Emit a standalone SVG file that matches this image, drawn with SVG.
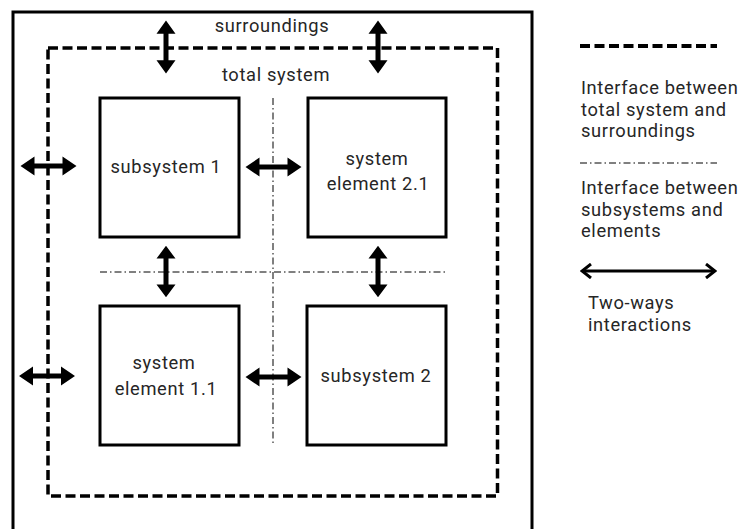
<svg xmlns="http://www.w3.org/2000/svg" xmlns:xlink="http://www.w3.org/1999/xlink" width="747" height="529" viewBox="0 0 747 529">
  <style>
    .lbl { font-family: Roboto, "Open Sans", "Liberation Sans", sans-serif; font-size: 18.3px; letter-spacing: 0.65px; fill: #262626; }
    .mid { text-anchor: middle; }
    .box { fill: #fff; stroke: #000; stroke-width: 3; }
    .outer { fill: none; stroke: #000; stroke-width: 3; }
    .dash { fill: none; stroke: #000; stroke-width: 3.5; stroke-dasharray: 10 4.5; }
    .dashdot { fill: none; stroke: #000; stroke-width: 1; stroke-dasharray: 7 3 1.5 3; }
    .arr { fill: #000; }
  </style>
  <defs>
    <!-- fat double-headed arrow, 56 long, centred on the origin, pointing along x -->
    <polygon id="dbl" points="-28,0 -14,-9.5 -14,-2.5 14,-2.5 14,-9.5 28,0 14,9.5 14,2.5 -14,2.5 -14,9.5"/>
    <marker id="chev" viewBox="0 0 12 16" refX="10" refY="8" markerWidth="12" markerHeight="16" markerUnits="userSpaceOnUse" orient="auto-start-reverse">
      <path d="M1,1 L10,8 L1,15" fill="none" stroke="#000" stroke-width="3"/>
    </marker>
  </defs>

  <rect width="747" height="529" fill="#fff"/>

  <!-- surroundings boundary (open at the bottom) -->
  <g id="surroundings">
    <path class="outer" d="M13,540 V12 H532 V540"/>
    <text class="lbl mid" x="272" y="32">surroundings</text>
  </g>

  <!-- total system boundary -->
  <g id="total-system">
    <rect class="dash" x="48" y="48" width="449.5" height="448"/>
    <text class="lbl mid" x="276" y="81">total system</text>
  </g>

  <!-- internal interfaces -->
  <g id="internal-interfaces">
    <line class="dashdot" x1="100" y1="272" x2="445" y2="272"/>
    <line class="dashdot" x1="273" y1="98" x2="273" y2="443"/>
  </g>

  <g id="subsystem-1">
    <rect class="box" x="100" y="98" width="139" height="139"/>
    <text class="lbl mid" x="166" y="173">subsystem 1</text>
  </g>
  <g id="system-element-2-1">
    <rect class="box" x="308" y="98" width="138" height="139"/>
    <text class="lbl mid"><tspan x="377" y="165">system</tspan><tspan x="378" y="190">element 2.1</tspan></text>
  </g>
  <g id="system-element-1-1">
    <rect class="box" x="100" y="306" width="139" height="139"/>
    <text class="lbl mid"><tspan x="164" y="369">system</tspan><tspan x="166" y="395">element 1.1</tspan></text>
  </g>
  <g id="subsystem-2">
    <rect class="box" x="307" y="306" width="139" height="139"/>
    <text class="lbl mid" x="376" y="382">subsystem 2</text>
  </g>

  <!-- two-way interactions -->
  <g id="connectors" class="arr">
    <use xlink:href="#dbl" transform="translate(166,47) rotate(90) scale(0.95,1)"/>
    <use xlink:href="#dbl" transform="translate(378,47) rotate(90) scale(0.95,1)"/>
    <use xlink:href="#dbl" transform="translate(48.5,166)"/>
    <use xlink:href="#dbl" transform="translate(47,376)"/>
    <use xlink:href="#dbl" transform="translate(166,271.5) rotate(90) scale(0.92,1)"/>
    <use xlink:href="#dbl" transform="translate(378,271.5) rotate(90) scale(0.92,1)"/>
    <use xlink:href="#dbl" transform="translate(273.5,167)"/>
    <use xlink:href="#dbl" transform="translate(273.5,377)"/>
  </g>

  <!-- legend -->
  <g id="legend">
    <line x1="580" y1="46" x2="717" y2="46" stroke="#000" stroke-width="4" stroke-dasharray="10 4.5"/>
    <text class="lbl"><tspan x="581" y="94">Interface between</tspan><tspan x="581" y="115.5">total system and</tspan><tspan x="581" y="137">surroundings</tspan></text>
    <line class="dashdot" x1="580" y1="163" x2="717" y2="163"/>
    <text class="lbl"><tspan x="581" y="194">Interface between</tspan><tspan x="581" y="215.5">subsystems and</tspan><tspan x="581" y="237">elements</tspan></text>
    <line x1="582" y1="271" x2="715" y2="271" stroke="#000" stroke-width="3" marker-start="url(#chev)" marker-end="url(#chev)"/>
    <text class="lbl"><tspan x="588" y="309">Two-ways</tspan><tspan x="588" y="331">interactions</tspan></text>
  </g>
</svg>
